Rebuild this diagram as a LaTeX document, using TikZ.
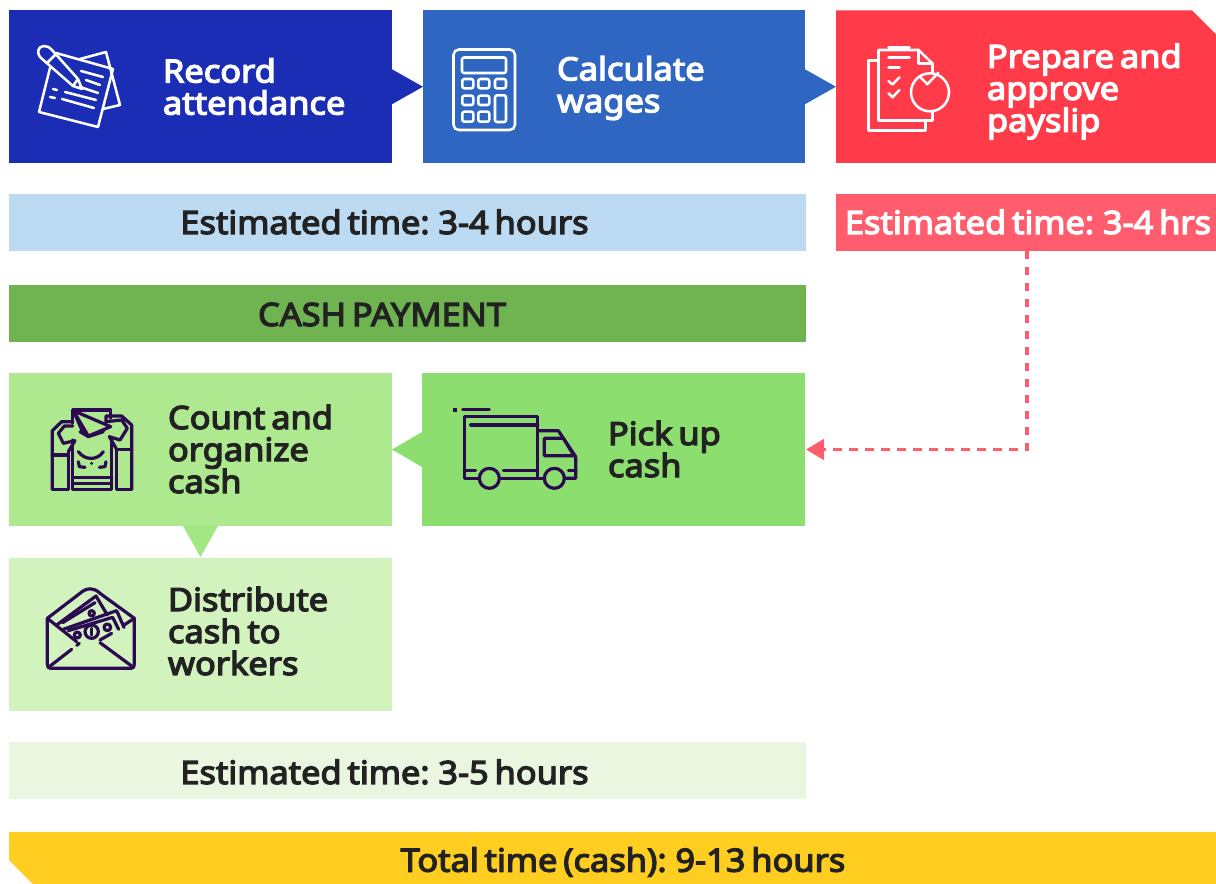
\documentclass[tikz,border=0pt]{standalone}
\usepackage{fontspec}
\setmainfont{Noto Sans}[FakeBold=4,FakeStretch=1.075,WordSpace=0.65]
\usetikzlibrary{calc,arrows.meta}
\definecolor{cA}{HTML}{1B2DB5}
\definecolor{cB}{HTML}{2F66C2}
\definecolor{cC}{HTML}{FF3B4A}
\definecolor{cD}{HTML}{BDDAF3}
\definecolor{cE}{HTML}{FF5C6E}
\definecolor{cF}{HTML}{70B452}
\definecolor{cG}{HTML}{AEE98F}
\definecolor{cH}{HTML}{8CDF6E}
\definecolor{cI}{HTML}{D2F2BE}
\definecolor{cJ}{HTML}{EAF6DF}
\definecolor{cK}{HTML}{FFCE20}
\definecolor{cL}{HTML}{A3E785}
\definecolor{ink}{HTML}{222222}
\definecolor{iconink}{HTML}{2B0A52}
\tikzset{
  box/.style={rectangle,inner sep=0pt,outer sep=0pt,anchor=north west},
  lbl/.style={inner sep=0pt,outer sep=0pt,anchor=west,align=left,font=\fontsize{24}{24}\selectfont},
  barlbl/.style={inner sep=0pt,outer sep=0pt,font=\fontsize{24}{24}\selectfont},
  iconw/.style={draw=white,line width=1.9pt,line join=round,line cap=round},
  icond/.style={draw=iconink,line width=2.4pt,line join=round,line cap=round},
  link/.style={draw=cE,line width=2.3pt,dash pattern=on 6.2pt off 5.8pt},
}
\newcommand{\pboxnode}[6]{\node[box,fill=#6,minimum width=#4*0.75pt,minimum height=#5*0.75pt] (#1) at (#2,#3) {};}
\begin{document}
\begin{tikzpicture}[x=0.75pt,y=-0.75pt]
\useasboundingbox (0,0) rectangle (1216,884);
% boxes
\pboxnode{record}{9}{10.5}{383}{152.5}{cA}
\pboxnode{calc}{422.5}{10.5}{382.5}{152.5}{cB}
\node[box,minimum width=380*0.75pt,minimum height=152.5*0.75pt] (prep) at (836,10.5) {};
\fill[cC] (prep.north west) -- ($(prep.north east)+(-18pt,0)$) -- ($(prep.north east)+(0,-18pt)$) -- (prep.south east) -- (prep.south west) -- cycle;
\pboxnode{est1}{9}{194}{797}{57}{cD}
\pboxnode{est2}{836}{194}{380}{57}{cE}
\pboxnode{cash}{9}{285}{797}{57}{cF}
\pboxnode{count}{9}{373}{383}{153}{cG}
\pboxnode{pick}{422}{373}{383}{153}{cH}
\pboxnode{dist}{9}{558}{383}{153}{cI}
\pboxnode{est3}{9}{742}{797}{57}{cJ}
\node[box,minimum width=1207*0.75pt,minimum height=52*0.75pt] (total) at (9,832) {};
\fill[cK] (total.north west) -- (total.north east) -- (total.south east) -- ($(total.south west)+(18pt,0)$) -- ($(total.south west)+(0,18pt)$) -- cycle;
% triangular connectors
\fill[cA] ($(record.east)+(0,-13.1pt)$) -- ($(record.east)+(23.2pt,0)$) -- ($(record.east)+(0,13.1pt)$) -- cycle;
\fill[cB] ($(calc.east)+(0,-13.1pt)$) -- ($(calc.east)+(23.2pt,0)$) -- ($(calc.east)+(0,13.1pt)$) -- cycle;
\fill[cH] ($(pick.west)+(0,-13.1pt)$) -- ($(pick.west)+(-22.5pt,0)$) -- ($(pick.west)+(0,13.1pt)$) -- cycle;
\fill[cL] ($(count.south)+(-13.1pt,0)$) -- ($(dist.north)+(0,0.7pt)$) -- ($(count.south)+(13.1pt,0)$) -- cycle;
% dashed connector
\draw[link] ($(est2.south)+(0.75pt,0)$) |- ($(pick.east)+(14pt,0)$);
\fill[cE] (pick.east) ++(0.8pt,0) -- ++(13.5pt,-8pt) -- ++(0,16pt) -- cycle;
% texts
\node[lbl,text=white] (t1) at (163,86.5) {Record\\attendance};
\node[lbl,text=white] (t2) at (557,88) {Calculate\\wages};
\node[lbl,text=white] (t3) at (987,91.5) {Prepare and\\approve\\payslip};
\node[lbl,text=ink] (t4) at (168,449) {Count and\\organize\\cash};
\node[lbl,text=ink] (t5) at (608,449) {Pick up\\cash};
\node[lbl,text=ink] (t6) at (168,631) {Distribute\\cash to\\workers};
\node[barlbl,text=ink] (b1) at (384.5,222) {Estimated time: 3-4 hours};
\node[barlbl,text=white] (b2) at (1028,222) {Estimated time: 3-4 hrs};
\node[barlbl,text=ink] (b3) at (382,314.5) {CASH PAYMENT};
\node[barlbl,text=ink] (b4) at (384.5,772) {Estimated time: 3-5 hours};
\node[barlbl,text=ink] (b5) at (623,862) {Total time (cash): 9-13 hours};
% icon: notes
\begin{scope}
\draw[iconw] (56,53) -- (113,69) -- (98,127) -- (39,112) -- (50,68);
\draw[iconw] (80,59) -- (106,52) -- (120,105) -- (103,109);
\draw[iconw] (52,50) -- (78,79) -- (82,89) -- (73,86) -- (41,58) .. controls (36,53) and (38,46) .. (44,46) .. controls (47,46) and (49,47) .. (52,50);
\draw[iconw] (47,63) -- (57,53) (73,86) -- (78,79);
\draw[iconw] (81,71) -- (103,77) (86,80) -- (100,85) (80,87) -- (98,93) (65,92) -- (96,100) (62,99) -- (94,108) (53,89) -- (57,90) (50,97) -- (55,98);
\end{scope}
% icon: calculator
\begin{scope}
\draw[iconw,rounded corners=4pt] (453.5,49.5) rectangle (515,130);
\draw[iconw,rounded corners=1.5pt] (462,57.5) rectangle (506,73);
\foreach \xa/\xb in {462.3/473.3,478.3/489.3,495/506}
  \draw[iconw,rounded corners=1.5pt] (\xa,79) rectangle (\xb,88.3);
\foreach \xa/\xb in {462.3/473.3,478.3/489.3} {
  \draw[iconw,rounded corners=1.5pt] (\xa,95.7) rectangle (\xb,105);
  \draw[iconw,rounded corners=1.5pt] (\xa,111.7) rectangle (\xb,121.7);
}
\draw[iconw,rounded corners=1.5pt] (495,95.3) rectangle (506,122);
\end{scope}
% icon: payslip
\begin{scope}
\draw[iconw] (877,60.5) -- (868.5,60.5) -- (868.5,130.5) -- (925.5,130.5) -- (925.5,121);
\draw[iconw] (932.5,111) -- (932.5,120.5) -- (878.5,120.5) -- (878.5,50) -- (918.5,50) -- (932.5,63.5) -- (932.5,72.5);
\draw[iconw] (918.5,50) -- (918.5,63.5) -- (932.5,63.5);
\draw[iconw] (888.5,47.3) -- (909.5,47.3) (888.5,57.3) -- (909.5,57.3) (888.5,67.3) -- (899.5,67.3);
\draw[iconw] (888.5,81) -- (892.5,84.5) -- (899.5,77.3) (888.5,93.3) -- (892.5,97.3) -- (899.5,90);
\draw[iconw] (930,92.3) circle[radius=19];
\draw[iconw] (920.5,77.3) -- (927.3,84.3) -- (938.3,72.7);
\end{scope}
% icon: machine
\begin{scope}[shift={(20,390)},x=0.25pt,y=-0.25pt]
\draw[icond] (158,150) -- (158,298) -- (275,298) -- (275,150);
\draw[icond] (158,100) -- (158,60) -- (272,60) -- (272,85);
\draw[icond] (158,262) -- (275,262) (158,280) -- (275,280);
\draw[icond] (97,298) -- (97,122) -- (125,95) -- (158,95);
\draw[icond] (97,298) -- (145,298) -- (145,185) (97,195) -- (145,195);
\draw[icond] (335,298) -- (335,105) -- (305,78) -- (258,78) -- (258,95) -- (305,90) -- (322,115) -- (300,150) -- (268,140) -- (290,178);
\draw[icond] (335,298) -- (290,298) -- (290,178) -- (335,178);
\draw[icond] (158,108) -- (133,108) -- (115,130) -- (130,160) -- (165,152) -- (145,185);
\draw[icond] (160,62) -- (205,138) -- (272,110) -- cycle;
\draw[icond] (160,62) -- (190,130) (180,125) -- (205,140) -- (250,125);
\draw[icond] (175,185) .. controls (195,212) and (232,212) .. (250,185);
\draw[icond] (175,215) -- (178,230) -- (195,232) (258,215) -- (255,230) -- (238,232);
\fill[iconink] (215,220) circle[radius=5];
\end{scope}
% icon: truck
\begin{scope}[shift={(430,390)},x=0.25pt,y=-0.25pt]
\fill[iconink] (70,54) rectangle (81,65);
\draw[icond] (98,59) -- (178,59);
\draw[icond] (147,265) -- (103,265) -- (103,80) -- (323,80) -- (323,265);
\draw[icond] (122,105) -- (323,105);
\draw[icond] (323,122) -- (385,122) -- (437,200) -- (437,265) -- (405,265);
\draw[icond] (343,145) -- (400,145) -- (432,197) -- (343,197) -- cycle;
\draw[icond] (210,265) -- (341,265);
\draw[icond] (178,265) circle[radius=30] (373,265) circle[radius=30];
\draw[icond] (103,242) -- (137,242) (220,242) -- (323,242) (415,242) -- (437,242);
\end{scope}
% icon: envelope
\begin{scope}[shift={(20,570)},x=0.25pt,y=-0.25pt]
\draw[icond] (82,145) -- (82,283) .. controls (82,292) and (86,295) .. (92,295) -- (333,295) .. controls (339,295) and (343,292) .. (343,283) -- (343,145);
\draw[icond] (82,145) -- (180,70) .. controls (200,52) and (222,52) .. (240,70) -- (343,145);
\draw[icond] (88,290) -- (155,238) (170,226) -- (178,220) (240,218) -- (335,288);
\draw[icond] (82,145) -- (170,215) (343,145) -- (312,165) (275,190) -- (240,210);
\draw[icond] (110,165) -- (228,78) -- (262,135);
\draw[icond] (130,178) -- (290,122) -- (312,172);
\draw[icond] (145,182) -- (278,142) -- (296,178);
\draw[icond] (128,158) -- (225,98);
\draw[icond] (215,185) circle[radius=20];
\draw[icond] (262,172) circle[radius=10] (172,195) circle[radius=9] (215,130) circle[radius=8];
\draw[icond] (215,175) -- (215,195);
\end{scope}
\end{tikzpicture}
\end{document}
